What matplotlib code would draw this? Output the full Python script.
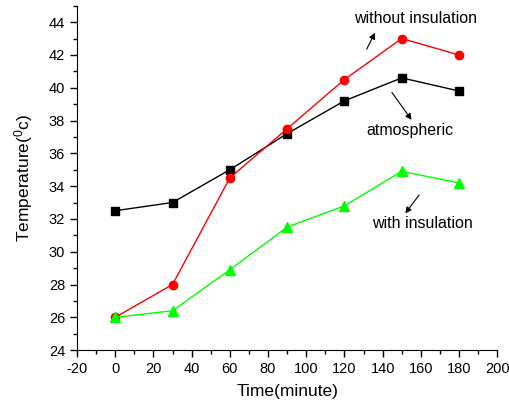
import matplotlib
matplotlib.use("Agg")
import matplotlib.pyplot as plt
from matplotlib.ticker import MultipleLocator

plt.rcParams['font.family'] = ['Liberation Sans', 'DejaVu Sans']
plt.rcParams['axes.unicode_minus'] = False

time = [0, 30, 60, 90, 120, 150, 180]
atmospheric = [32.5, 33.0, 35.0, 37.2, 39.2, 40.6, 39.8]
without_ins = [26.0, 28.0, 34.5, 37.5, 40.5, 43.0, 42.0]
with_ins = [26.0, 26.4, 28.9, 31.5, 32.8, 34.9, 34.2]

fig = plt.figure(figsize=(5.1, 4.09), dpi=100)
ax = fig.add_axes([0.151, 0.144, 0.824, 0.842])

ax.plot(time, atmospheric, color='black', marker='s', ms=6, lw=1)
ax.plot(time, without_ins, color='red', marker='o', ms=6, lw=1)
ax.plot(time, with_ins, color='#00ff00', marker='^', ms=7, lw=1)

ax.set_xlim(-20, 200)
ax.set_ylim(24, 45)
ax.xaxis.set_major_locator(MultipleLocator(20))
ax.xaxis.set_minor_locator(MultipleLocator(10))
ax.yaxis.set_major_locator(MultipleLocator(2))
ax.yaxis.set_minor_locator(MultipleLocator(1))
ax.spines['top'].set_visible(False)
ax.spines['right'].set_visible(False)
ax.tick_params(which='major', direction='out', length=5, width=1, labelsize=10.5)
ax.tick_params(which='minor', direction='out', length=3, width=1)

ax.set_xlabel('Time(minute)', fontsize=12.5, labelpad=6)
ax.set_ylabel('Temperature($\\mathregular{^0}$c)', fontsize=12.5, labelpad=10)

arrow = dict(arrowstyle='-|>', color='black', lw=0.8, mutation_scale=9)
ax.text(157, 44.2, 'without insulation', ha='center', va='center', fontsize=11.5)
ax.annotate('', xy=(136.6, 43.5), xytext=(131, 42.2), arrowprops=arrow)
ax.text(154.5, 37.4, 'atmospheric', ha='center', va='center', fontsize=11.5)
ax.annotate('', xy=(156, 37.9), xytext=(144, 39.85), arrowprops=arrow)
ax.text(161, 31.7, 'with insulation', ha='center', va='center', fontsize=11.5)
ax.annotate('', xy=(151, 32.2), xytext=(160, 33.6), arrowprops=arrow)

fig.savefig('out.png', dpi=100)
